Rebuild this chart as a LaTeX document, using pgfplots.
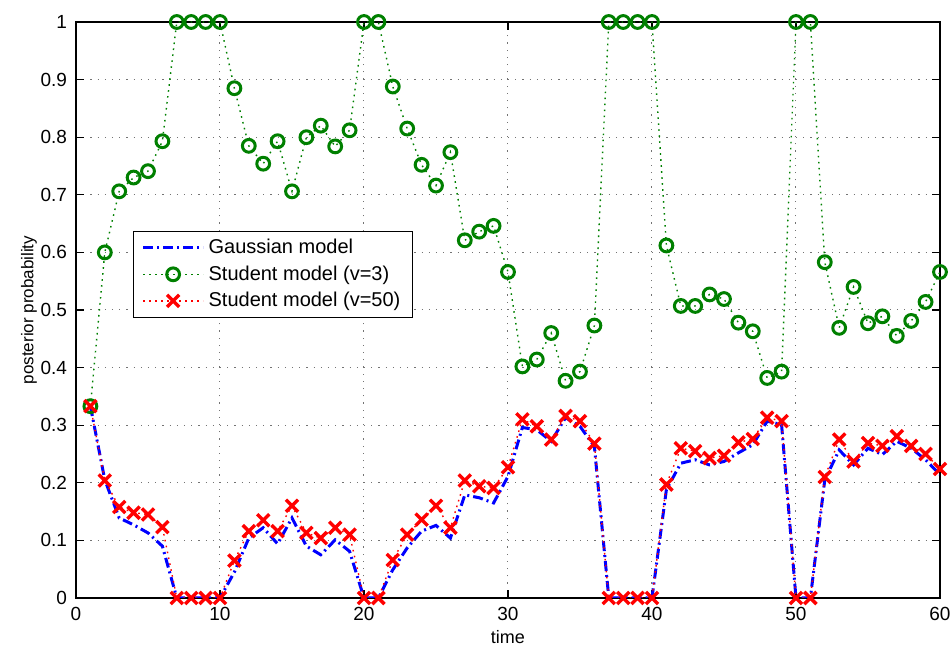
\documentclass[border=0pt]{standalone}
\usepackage{pgfplots}
\pgfplotsset{compat=1.18}
\usepackage{fontspec}
\setmainfont{Liberation Sans}
\definecolor{mgreen}{RGB}{0,128,0}
\definecolor{mblue}{RGB}{0,0,255}
\definecolor{mred}{RGB}{255,0,0}
\begin{document}
\begin{tikzpicture}
\useasboundingbox (0,0) rectangle (475pt,323.5pt);
\begin{axis}[
  at={(38pt,24.5pt)}, anchor=south west,
  width=432pt, height=288pt, scale only axis,
  xmin=0, xmax=60, ymin=0, ymax=1,
  xtick={0,10,...,60},
  ytick={0,0.1,0.2,0.3,0.4,0.5,0.6,0.7,0.8,0.9,1},
  yticklabels={0,0.1,0.2,0.3,0.4,0.5,0.6,0.7,0.8,0.9,1},
  xtick pos=both, ytick pos=both, tick align=inside,
  major tick length=4pt,
  every tick/.style={black, line width=0.6pt},
  axis line style={line width=0.8pt},
  grid=major,
  major grid style={black!55, dash pattern=on 0.6pt off 3pt, line width=0.5pt},
  /pgf/number format/assume math mode=true,
  tick label style={font=\fontsize{9.5}{11}\selectfont},
  xticklabel style={yshift=-1pt},
  yticklabel style={xshift=-1pt},
  xlabel={time},
  ylabel={posterior probability},
  xlabel style={font=\fontsize{9}{10}\selectfont, yshift=2pt},
  ylabel style={font=\fontsize{8.5}{10}\selectfont, yshift=-5pt},
  legend style={at={(0.066,0.638)}, anchor=north west, font=\fontsize{10}{12}\selectfont,
    draw=black, line width=0.6pt, row sep=0.5pt, inner xsep=4pt, inner ysep=2pt, cells={anchor=west}},
  legend cell align=left,
  legend image code/.code={\draw[#1, mark repeat=2, mark phase=2] plot coordinates {(0pt,0pt) (15pt,0pt) (30pt,0pt)};},
]
\addplot[mblue, line width=1.5pt, dash pattern=on 5pt off 2pt on 1pt off 2pt, mark=none] coordinates {
(1,0.333)(2,0.205)(3,0.139)(4,0.127)(5,0.113)(6,0.090)(7,0)(8,0)(9,0)(10,0)
(11,0.045)(12,0.104)(13,0.122)(14,0.094)(15,0.139)(16,0.090)(17,0.075)(18,0.101)(19,0.081)(20,0)
(21,0)(22,0.049)(23,0.087)(24,0.116)(25,0.126)(26,0.104)(27,0.179)(28,0.174)(29,0.165)(30,0.211)
(31,0.296)(32,0.292)(33,0.272)(34,0.313)(35,0.298)(36,0.263)(37,0)(38,0)(39,0)(40,0)
(41,0.188)(42,0.234)(43,0.240)(44,0.231)(45,0.237)(46,0.252)(47,0.266)(48,0.307)(49,0.301)(50,0)
(51,0)(52,0.205)(53,0.257)(54,0.231)(55,0.260)(56,0.249)(57,0.272)(58,0.260)(59,0.240)(60,0.214)};
\addlegendentry{Gaussian model}
\addplot[mgreen, line width=0.7pt, dash pattern=on 0.8pt off 2.2pt, mark=o,
  mark size=3.2pt, mark options={solid, line width=1.5pt}] coordinates {
(1,0.333)(2,0.600)(3,0.706)(4,0.730)(5,0.741)(6,0.793)(7,1)(8,1)(9,1)(10,1)
(11,0.885)(12,0.785)(13,0.754)(14,0.793)(15,0.706)(16,0.800)(17,0.820)(18,0.784)(19,0.812)(20,1)
(21,1)(22,0.888)(23,0.815)(24,0.752)(25,0.716)(26,0.774)(27,0.621)(28,0.636)(29,0.646)(30,0.566)
(31,0.402)(32,0.414)(33,0.460)(34,0.377)(35,0.393)(36,0.473)(37,1)(38,1)(39,1)(40,1)
(41,0.612)(42,0.507)(43,0.507)(44,0.527)(45,0.519)(46,0.478)(47,0.463)(48,0.382)(49,0.393)(50,1)
(51,1)(52,0.583)(53,0.469)(54,0.540)(55,0.477)(56,0.489)(57,0.455)(58,0.481)(59,0.514)(60,0.566)};
\addlegendentry{Student model (v=3)}
\addplot[mred, line width=0.7pt, dash pattern=on 0.8pt off 2.2pt, mark=x,
  mark size=4.3pt, mark options={solid, line width=1.7pt}] coordinates {
(1,0.333)(2,0.204)(3,0.158)(4,0.148)(5,0.145)(6,0.123)(7,0)(8,0)(9,0)(10,0)
(11,0.065)(12,0.116)(13,0.135)(14,0.116)(15,0.160)(16,0.113)(17,0.104)(18,0.122)(19,0.110)(20,0)
(21,0)(22,0.066)(23,0.110)(24,0.136)(25,0.160)(26,0.122)(27,0.204)(28,0.194)(29,0.191)(30,0.227)
(31,0.310)(32,0.298)(33,0.275)(34,0.316)(35,0.307)(36,0.268)(37,0)(38,0)(39,0)(40,0)
(41,0.197)(42,0.260)(43,0.255)(44,0.243)(45,0.247)(46,0.270)(47,0.276)(48,0.313)(49,0.307)(50,0)
(51,0)(52,0.210)(53,0.275)(54,0.237)(55,0.269)(56,0.264)(57,0.281)(58,0.264)(59,0.250)(60,0.224)};
\addlegendentry{Student model (v=50)}
\end{axis}
\end{tikzpicture}
\end{document}
